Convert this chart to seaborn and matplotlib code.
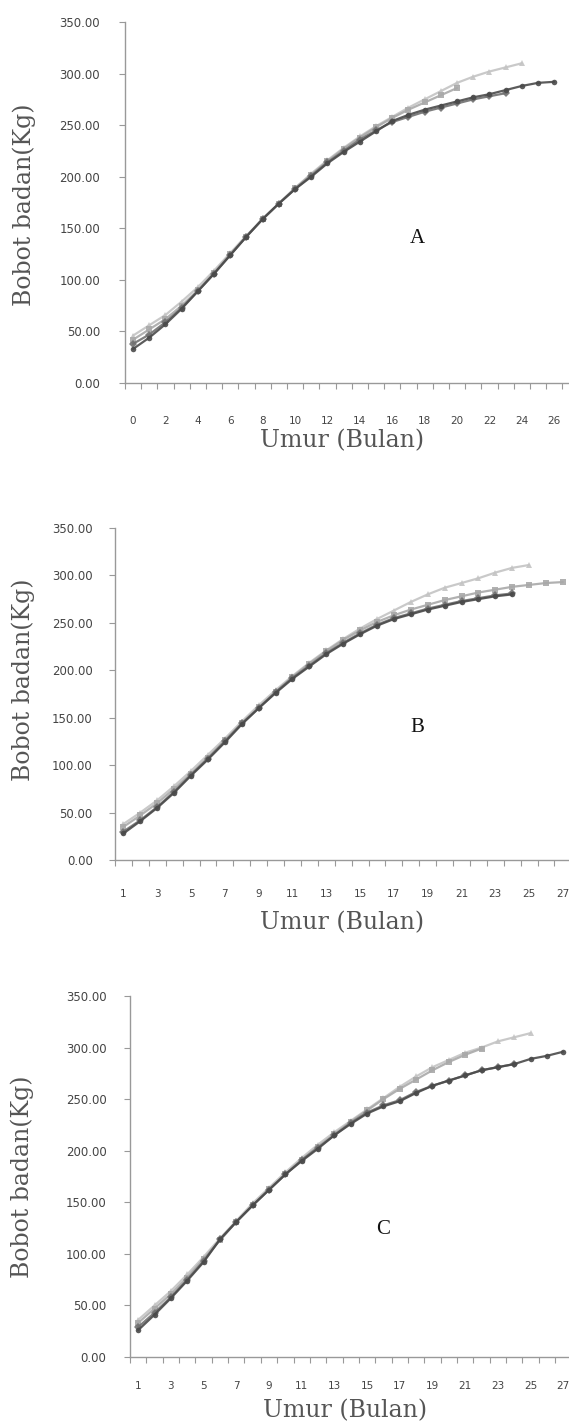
import numpy as np
import pandas as pd
from matplotlib import pyplot as plt
import seaborn as sns

# body weight (kg) per month of age
months_a = list(range(0, 27))
a_s1 = [46, 56, 66, 79, 93, 109, 126, 143, 159, 174, 189, 203, 216, 228, 239, 249, 258, 267, 275, 283, 291, 297, 302, 306, 310]
a_s2 = [42, 52, 62, 75, 90, 107, 125, 142, 159, 174, 189, 202, 215, 227, 238, 248, 257, 265, 272, 279, 286]
a_s3 = [38, 47, 59, 73, 89, 106, 124, 142, 159, 174, 188, 201, 214, 225, 236, 245, 253, 258, 263, 267, 271, 275, 278, 281]
a_s4 = [33, 44, 57, 72, 89, 106, 124, 142, 159, 174, 188, 200, 213, 224, 234, 244, 254, 260, 265, 269, 273, 277, 280, 284, 288, 291, 292]

months_b = list(range(1, 28))
b_s1 = [38, 50, 63, 78, 94, 111, 128, 146, 163, 179, 194, 208, 221, 233, 244, 254, 263, 272, 280, 287, 292, 297, 303, 308, 311]
b_s2 = [35, 47, 60, 75, 91, 108, 126, 144, 161, 177, 193, 207, 220, 232, 242, 251, 258, 264, 269, 274, 278, 282, 285, 288, 290, 292, 293]
b_s3 = [30, 42, 56, 72, 90, 107, 125, 144, 160, 177, 192, 205, 218, 229, 239, 248, 255, 260, 265, 269, 273, 276, 279, 281]
b_s4 = [28, 41, 55, 71, 89, 106, 124, 143, 160, 176, 191, 204, 217, 228, 238, 247, 254, 259, 264, 268, 272, 275, 278, 280]

months_c = list(range(1, 28))
c_s1 = [36, 50, 64, 80, 97, 115, 132, 149, 164, 179, 193, 206, 218, 229, 240, 251, 262, 272, 281, 288, 295, 300, 306, 310, 314]
c_s2 = [33, 47, 61, 77, 95, 113, 131, 147, 163, 177, 191, 204, 216, 228, 239, 250, 260, 269, 278, 286, 293, 299]
c_s3 = [29, 43, 58, 75, 93, 114, 131, 147, 162, 177, 191, 203, 215, 227, 237, 244, 249, 257, 263, 268, 273, 278, 281, 284]
c_s4 = [26, 41, 57, 74, 92, 114, 131, 147, 162, 177, 190, 202, 215, 226, 236, 243, 248, 256, 263, 268, 273, 278, 281, 284, 289, 292, 296]

y_ticks = [0, 50, 100, 150, 200, 250, 300, 350]

sns.set_style("white")
plt.rcParams['font.family'] = ['DejaVu Sans']

# one style per series, light to dark
styles = [
    dict(color="#c4c4c4", marker="^", markersize=5),
    dict(color="#a9a9a9", marker="s", markersize=4),
    dict(color="#707070", marker="D", markersize=4.5),
    dict(color="#4a4a4a", marker="o", markersize=4),
]

# panel geometry in pixels: (axis left x, axis right x, zero y, top y)
panels = [
    dict(months=months_a, series=[a_s1, a_s2, a_s3, a_s4], box=(125, 568, 383, 22),
         xlim=(-0.5, 26.85), xticks=range(0, 27, 2), letter="A", letter_pos=(0.66, 0.40),
         xpad=24, xlab=(0.49, -0.128), ylab=(-0.200, 0.493), ypad=14),
    dict(months=months_b, series=[b_s1, b_s2, b_s3, b_s4], box=(115, 569, 860, 528),
         xlim=(0.5, 27.36), xticks=range(1, 28, 2), letter="B", letter_pos=(0.665, 0.40),
         xpad=21, xlab=(0.5, -0.155), ylab=(-0.176, 0.542), ypad=12),
    dict(months=months_c, series=[c_s1, c_s2, c_s3, c_s4], box=(130, 569, 1357, 996),
         xlim=(0.5, 27.35), xticks=range(1, 28, 2), letter="C", letter_pos=(0.576, 0.352),
         xpad=17, xlab=(0.49, -0.117), ylab=(-0.219, 0.499), ypad=13),
]

W, H = 569, 1426
fig = plt.figure(figsize=(W / 100, H / 100), dpi=100)

for p in panels:
    x0, x1, y0, y1 = p["box"]
    ax = fig.add_axes([x0 / W, 1 - y0 / H, (x1 - x0) / W, (y0 - y1) / H])
    for vals, st in zip(p["series"], styles):
        sns.lineplot(x=p["months"][:len(vals)], y=vals, ax=ax, linewidth=1.6,
                     markeredgewidth=0, alpha=0.9, **st)

    ax.set_xlim(*p["xlim"])
    ax.set_ylim(0, 350)
    ax.set_yticks(y_ticks)
    ax.set_yticklabels(["%.2f" % v for v in y_ticks])
    ax.set_xticks(list(p["xticks"]))
    ax.set_xticks(np.arange(p["xlim"][0], p["xlim"][1], 1.0), minor=True)
    ax.tick_params(axis="x", which="major", length=0, pad=p["xpad"], labelsize=7.5, labelcolor="#444444")
    ax.tick_params(axis="x", which="minor", length=4, width=0.8, color="#999999", direction="out", bottom=True)
    ax.tick_params(axis="y", which="major", length=4, width=0.8, color="#999999", direction="out",
                   left=True, pad=p["ypad"], labelsize=8.5, labelcolor="#444444")

    for side in ["top", "right"]:
        ax.spines[side].set_visible(False)
    for side in ["left", "bottom"]:
        ax.spines[side].set_color("#999999")
        ax.spines[side].set_linewidth(1.0)

    ax.set_xlabel("Umur (Bulan)", family="DejaVu Serif", fontsize=17, color="#555555")
    ax.set_ylabel("Bobot badan(Kg)", family="DejaVu Serif", fontsize=17, color="#555555")
    ax.xaxis.set_label_coords(*p["xlab"])
    ax.yaxis.set_label_coords(*p["ylab"])

    ax.text(p["letter_pos"][0], p["letter_pos"][1], p["letter"], transform=ax.transAxes,
            family="Liberation Serif", fontsize=15, color="#111111", ha="center", va="center")

fig.savefig("out.png", dpi=100)
